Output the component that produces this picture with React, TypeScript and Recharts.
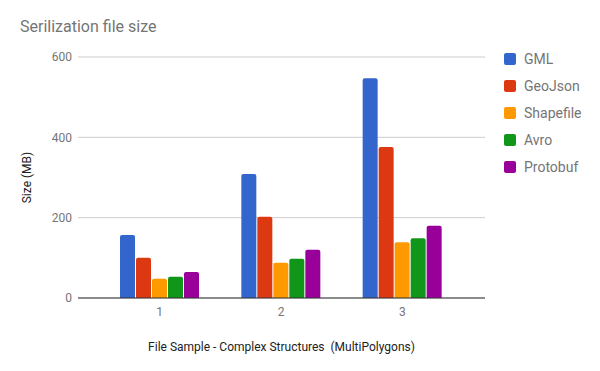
import { BarChart, Bar, XAxis, YAxis, CartesianGrid } from "recharts";

const categories = ["1", "2", "3"];
const seriesNames = ["GML", "GeoJson", "Shapefile", "Avro", "Protobuf"];
const gml = [157, 309, 547];
const geoJson = [100, 202, 376];
const shapefile = [48, 88, 139];
const avro = [53, 98, 149];
const protobuf = [65, 120, 180];
const yTicks = [0, 200, 400, 600];
const colors = ["#3366cc", "#dc3912", "#ff9900", "#109618", "#990099"];

const values = [gml, geoJson, shapefile, avro, protobuf];
const data = categories.map((name, i) => {
  const row: Record<string, string | number> = { name };
  seriesNames.forEach((s, k) => (row[s] = values[k][i]));
  return row;
});

const font = "Roboto, sans-serif";

const YLabel = ({ viewBox }: any) => {
  const cy = viewBox.y + viewBox.height / 2;
  const cx = 27;
  return (
    <text
      x={cx}
      y={cy}
      transform={`rotate(-90 ${cx} ${cy})`}
      textAnchor="middle"
      dominantBaseline="central"
      fontSize={12}
      fill="#222"
      fontFamily={font}
    >
      Size (MB)
    </text>
  );
};

export default function App() {
  return (
    <div style={{ position: "absolute", left: 0, top: 0, width: 600, height: 371, fontFamily: font }}>
      <div style={{ position: "absolute", left: 20, top: 17, fontSize: 16, color: "#757575" }}>
        Serilization file size
      </div>
      <BarChart
        width={600}
        height={371}
        data={data}
        margin={{ top: 57, right: 115, left: 18, bottom: 0 }}
        barCategoryGap={21}
        barGap={1}
      >
        <CartesianGrid vertical={false} stroke="#cccccc" />
        <XAxis
          dataKey="name"
          padding={{ left: 21, right: 22 }}
          height={73}
          tickLine={false}
          tickSize={0}
          tickMargin={9}
          stroke="#333"
          tick={{ fill: "#757575", fontSize: 12, fontFamily: font }}
          label={{
            value: "File Sample - Complex Structures\u00a0 (MultiPolygons)",
            position: "insideBottom",
            offset: 20,
            fill: "#222",
            fontSize: 12,
            fontFamily: font,
          }}
        />
        <YAxis
          width={60}
          domain={[0, 600]}
          ticks={yTicks}
          axisLine={false}
          tickLine={false}
          tickSize={0}
          tickMargin={6}
          tick={{ fill: "#757575", fontSize: 12, fontFamily: font }}
          label={<YLabel />}
        />
        {seriesNames.map((s, k) => (
          <Bar key={s} dataKey={s} fill={colors[k]} radius={[2, 2, 0, 0]} isAnimationActive={false} />
        ))}
      </BarChart>
      <div style={{ position: "absolute", left: 504, top: 45 }}>
        {seriesNames.map((s, k) => (
          <div key={s} style={{ display: "flex", alignItems: "center", height: 27, fontSize: 14, color: "#757575" }}>
            <span
              style={{ width: 12, height: 12, borderRadius: 2, background: colors[k], marginRight: 8, display: "inline-block" }}
            />
            {s}
          </div>
        ))}
      </div>
    </div>
  );
}
